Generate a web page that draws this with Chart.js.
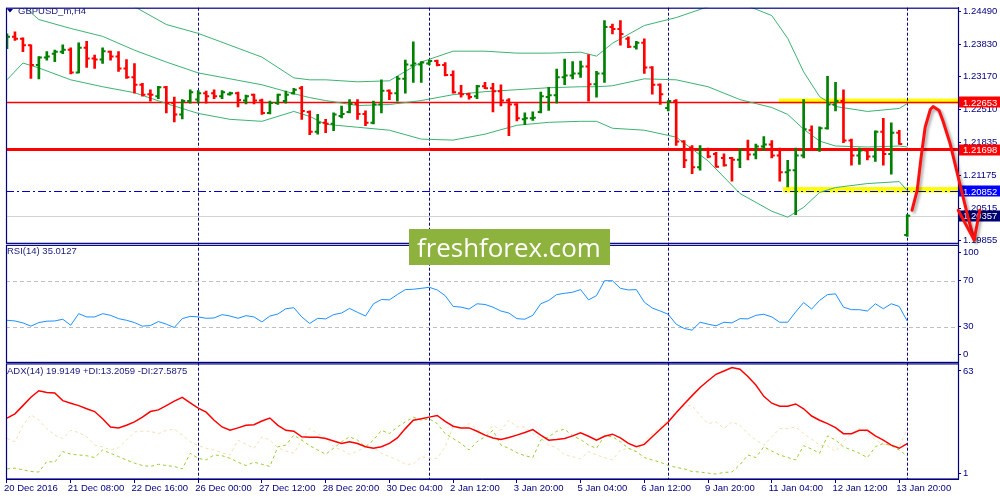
<!DOCTYPE html>
<html>
<head>
<meta charset="utf-8">
<script src="https://cdn.jsdelivr.net/npm/chart.js@4.4.1/dist/chart.umd.min.js"></script>
<style>
  html, body { margin: 0; padding: 0; background: #fff; overflow: hidden; }
  canvas { display: block; }
</style>
</head>
<body>
<canvas id="chart" width="1000" height="500" style="width:1000px;height:500px"></canvas>
<script>
// GBPUSD_m H4 bars, 20 Dec 2016 00:00 .. 16 Jan 2017 00:00 (bar index 0..113)
const barOpen = [
  1.2381,1.2398,1.2394,1.2381,1.2341,1.2356,1.2364,1.2368,1.2372,1.2326,
  1.2376,1.2354,1.2352,1.2368,1.2358,1.2334,1.2316,1.2301,1.2282,1.2278,
  1.2296,1.2264,1.2241,1.2268,1.2271,1.2284,1.2284,1.2278,1.2282,1.2284,
  1.2269,1.2281,1.2269,1.2244,1.2264,1.2268,1.2284,1.2294,1.2246,1.2206,
  1.2224,1.2222,1.2238,1.2246,1.2262,1.2242,1.2224,1.2261,1.2289,1.2284,
  1.2313,1.2340,1.2342,1.2344,1.2349,1.2341,1.2321,1.2284,1.2282,1.2278,
  1.2298,1.2294,1.2288,1.2269,1.2261,1.2231,1.2233,1.2246,1.2276,1.2280,
  1.2316,1.2320,1.2324,1.2338,1.2302,1.2324,1.2418,1.2414,1.2394,1.2378,
  1.2386,1.2336,1.2301,1.2254,1.2268,1.2186,1.2174,1.2134,1.2171,1.2161,
  1.2153,1.2153,1.2149,1.2171,1.2160,1.2176,1.2180,1.2158,1.2124,1.2128,
  1.2158,1.2209,1.2171,1.2213,1.2261,1.2268,1.2188,1.2158,1.2168,1.2156,
  1.2206,1.2161,1.2204,1.1997
];
const barHigh = [
  1.2404,1.2408,1.2396,1.2382,1.2358,1.2368,1.2371,1.2382,1.2376,1.2386,
  1.2389,1.2361,1.2376,1.2369,1.2368,1.2352,1.2344,1.2304,1.2291,1.2298,
  1.2298,1.2276,1.2271,1.2291,1.2289,1.2288,1.2291,1.2289,1.2286,1.2286,
  1.2280,1.2282,1.2272,1.2268,1.2282,1.2288,1.2294,1.2298,1.2248,1.2241,
  1.2231,1.2244,1.2258,1.2271,1.2271,1.2248,1.2268,1.2311,1.2291,1.2318,
  1.2351,1.2388,1.2348,1.2351,1.2351,1.2346,1.2329,1.2300,1.2284,1.2300,
  1.2306,1.2304,1.2301,1.2273,1.2263,1.2244,1.2246,1.2286,1.2296,1.2333,
  1.2353,1.2348,1.2349,1.2362,1.2328,1.2431,1.2424,1.2431,1.2398,1.2389,
  1.2394,1.2338,1.2303,1.2269,1.2271,1.2188,1.2178,1.2178,1.2173,1.2164,
  1.2161,1.2154,1.2171,1.2189,1.2181,1.2196,1.2188,1.2173,1.2148,1.2173,
  1.2271,1.2218,1.2216,1.2318,1.2306,1.2291,1.2191,1.2173,1.2171,1.2208,
  1.2233,1.2224,1.2209,1.2038
];
const barLow = [
  1.2374,1.2391,1.2368,1.2314,1.2313,1.2351,1.2348,1.2364,1.2323,1.2325,
  1.2336,1.2334,1.2344,1.2351,1.2328,1.2314,1.2284,1.2278,1.2268,1.2273,
  1.2244,1.2226,1.2232,1.2264,1.2264,1.2264,1.2273,1.2273,1.2280,1.2256,
  1.2262,1.2262,1.2241,1.2242,1.2261,1.2264,1.2282,1.2231,1.2200,1.2201,
  1.2204,1.2208,1.2234,1.2244,1.2231,1.2218,1.2222,1.2244,1.2271,1.2268,
  1.2284,1.2306,1.2306,1.2341,1.2339,1.2319,1.2284,1.2276,1.2272,1.2273,
  1.2293,1.2246,1.2258,1.2198,1.2228,1.2220,1.2229,1.2244,1.2249,1.2264,
  1.2301,1.2313,1.2316,1.2268,1.2276,1.2306,1.2404,1.2381,1.2376,1.2373,
  1.2324,1.2282,1.2261,1.2248,1.2178,1.2133,1.2121,1.2128,1.2153,1.2134,
  1.2136,1.2106,1.2133,1.2149,1.2151,1.2168,1.2153,1.2106,1.2094,1.2038,
  1.2153,1.2168,1.2166,1.2211,1.2248,1.2184,1.2138,1.2140,1.2149,1.2146,
  1.2138,1.2120,1.2180,1.1994
];
const barClose = [
  1.2398,1.2394,1.2381,1.2341,1.2356,1.2358,1.2368,1.2372,1.2326,1.2376,
  1.2354,1.2352,1.2369,1.2358,1.2334,1.2316,1.2301,1.2281,1.2281,1.2296,
  1.2264,1.2241,1.2268,1.2286,1.2284,1.2278,1.2278,1.2286,1.2284,1.2270,
  1.2278,1.2269,1.2244,1.2264,1.2281,1.2281,1.2291,1.2248,1.2206,1.2224,
  1.2222,1.2241,1.2242,1.2262,1.2242,1.2224,1.2261,1.2289,1.2284,1.2313,
  1.2342,1.2344,1.2346,1.2349,1.2341,1.2321,1.2286,1.2282,1.2276,1.2298,
  1.2294,1.2288,1.2269,1.2261,1.2233,1.2233,1.2234,1.2278,1.2280,1.2316,
  1.2320,1.2324,1.2338,1.2302,1.2324,1.2418,1.2414,1.2404,1.2378,1.2386,
  1.2336,1.2301,1.2282,1.2268,1.2186,1.2148,1.2134,1.2171,1.2156,1.2135,
  1.2138,1.2149,1.2169,1.2160,1.2176,1.2180,1.2158,1.2124,1.2128,1.2158,
  1.2211,1.2171,1.2213,1.2261,1.2268,1.2188,1.2158,1.2168,1.2156,1.2206,
  1.2161,1.2204,1.2181,1.2036
];

// Bollinger bands, read at these bar indices
const bbIdx = [0,2,4,8,12,16,20,24,28,32,36,38,40,44,48,52,56,60,64,68,72,74,76,80,84,88,92,96,98,100,102,104,108,112,113];
const bbUpper = [1.2641,1.2621,1.2601,1.2561,1.2501,1.2459,1.2423,1.2405,1.2381,1.2357,1.2315,1.2311,1.2311,1.2307,1.2309,1.2347,1.2369,1.2369,1.2365,1.2365,1.2367,1.2359,1.2385,1.2421,1.2437,1.2459,1.2467,1.2441,1.2395,1.2327,1.2277,1.2257,1.2247,1.2253,1.2263];
const bbMiddle = [1.2485,1.2461,1.2433,1.2415,1.2399,1.2371,1.2347,1.2325,1.2313,1.2301,1.2283,1.2275,1.2269,1.2259,1.2261,1.2269,1.2281,1.2287,1.2291,1.2295,1.2297,1.2297,1.2299,1.2313,1.2311,1.2297,1.2271,1.2255,1.2241,1.2211,1.2187,1.2177,1.2175,1.2177,1.2175];
const bbLower = [1.2311,1.2345,1.2335,1.2311,1.2297,1.2285,1.2263,1.2243,1.2231,1.2227,1.2247,1.2237,1.2221,1.2215,1.2209,1.2191,1.2189,1.2201,1.2219,1.2225,1.2227,1.2227,1.2213,1.2209,1.2195,1.2147,1.2081,1.2045,1.2033,1.2053,1.2083,1.2093,1.2101,1.2105,1.2087];

const rsi14 = [
  35.7,35.1,33.4,30.6,33.7,34.9,35.1,36.6,31.4,41.4,
  38.6,38.6,41.4,40.0,37.1,35.7,33.7,30.6,31.1,34.6,
  32.3,29.4,37.1,39.1,38.6,37.4,37.7,40.6,39.4,37.4,
  39.7,38.6,34.3,39.4,41.1,45.7,46.6,38.6,32.9,37.4,
  36.9,40.6,42.0,46.0,42.6,39.4,50.0,53.7,53.4,58.0,
  62.3,62.6,63.4,64.3,62.0,57.1,47.7,47.1,45.4,50.0,
  49.4,47.1,43.7,42.0,37.1,36.6,40.0,50.0,52.9,58.0,
  59.1,60.0,62.3,53.4,57.1,70.0,70.0,63.4,62.0,62.3,
  51.4,46.3,43.7,40.9,32.3,28.6,27.1,34.0,32.3,30.9,
  34.0,33.4,37.1,36.9,40.0,40.9,38.6,34.0,34.0,42.9,
  51.1,45.4,52.9,58.0,58.6,47.1,44.9,44.9,43.7,50.0,
  45.7,50.0,47.7,35.0
];
const adxMain = [
  33.7,36.0,40.4,44.9,48.4,47.5,47.2,43.1,41.7,40.4,
  38.7,37.2,33.3,28.9,28.4,29.8,31.6,34.2,37.2,38.1,
  40.4,42.8,44.9,41.9,39.0,36.9,32.5,28.9,27.1,28.4,
  29.8,30.1,32.1,33.7,29.8,27.1,26.6,23.6,23.4,23.4,
  22.7,21.3,20.0,20.9,20.0,18.2,17.4,18.2,20.0,23.0,
  28.0,32.5,33.3,34.2,35.1,31.9,29.3,28.4,28.4,26.6,
  24.5,23.0,22.2,23.2,24.5,25.9,27.5,24.5,21.8,22.2,
  22.7,24.1,25.7,23.9,21.8,23.9,25.0,23.0,20.0,18.2,
  19.5,23.6,27.7,31.6,36.5,41.3,45.8,50.2,53.8,57.3,
  59.1,60.9,60.0,56.1,51.5,45.4,41.7,40.1,40.1,41.3,
  38.7,34.8,32.5,30.7,28.5,25.3,25.3,27.1,27.1,24.1,
  21.8,19.1,17.4,19.9
];
const adxPlusDI = [
  6.3,6.7,5.8,4.9,4.6,10.3,9.9,15.6,14.2,13.8,
  13.4,12.4,16.5,14.7,12.9,11.1,9.4,8.1,7.6,8.8,
  8.1,7.6,6.3,14.7,12.0,11.1,13.8,13.4,12.0,9.9,
  8.1,9.9,8.8,7.6,18.2,19.1,24.5,21.8,18.8,16.5,
  14.2,17.4,20.9,23.6,21.8,18.2,21.8,27.1,25.3,28.9,
  31.6,34.2,32.5,33.3,30.7,25.3,22.7,20.0,16.5,20.9,
  23.6,27.1,19.1,17.4,15.0,13.4,12.4,21.8,23.6,26.6,
  27.7,24.1,22.2,19.1,17.4,24.1,23.6,20.9,17.4,15.6,
  12.4,11.1,9.9,8.1,7.1,6.3,4.9,4.6,4.0,3.5,
  4.4,4.6,8.5,13.8,12.4,18.2,15.9,13.8,12.4,11.1,
  18.8,17.0,14.7,24.1,21.8,18.2,16.5,14.7,12.4,18.2,
  20.0,18.8,16.5,13.2
];
const adxMinusDI = [
  22.7,20.9,29.8,35.5,32.5,28.0,24.5,22.7,27.1,25.9,
  23.6,19.1,18.2,16.5,17.7,21.8,26.2,26.6,26.6,25.3,
  27.1,27.7,24.5,20.9,18.8,17.4,16.5,15.0,13.8,21.8,
  19.5,17.4,23.6,21.8,17.7,15.9,14.7,21.8,28.0,25.3,
  23.0,18.2,16.5,14.2,15.9,18.2,17.7,14.7,12.9,11.1,
  8.8,8.8,12.9,12.0,12.0,18.2,28.9,28.0,30.7,28.0,
  24.5,29.8,27.1,32.5,28.9,28.9,25.3,22.7,19.1,17.7,
  13.8,12.9,11.7,15.6,13.8,12.4,11.1,16.5,17.4,15.6,
  21.3,25.3,28.9,32.5,36.9,40.4,40.4,35.1,30.7,31.6,
  28.0,31.6,29.8,25.3,21.8,19.1,23.6,28.0,28.0,28.9,
  25.3,22.3,19.1,18.8,15.6,21.3,25.3,28.0,25.9,21.8,
  19.5,18.8,18.2,27.6
];

// axis labels
const xTickIdx = [0,8,16,24,32,40,48,56,64,72,80,88,96,104,112];
const xTickLabels = ["20 Dec 2016","21 Dec 08:00","22 Dec 16:00","26 Dec 00:00","27 Dec 12:00","28 Dec 20:00","30 Dec 04:00","2 Jan 12:00","3 Jan 20:00","5 Jan 04:00","6 Jan 12:00","9 Jan 20:00","11 Jan 04:00","12 Jan 12:00","13 Jan 20:00"];
const priceTicks = [1.24490,1.23830,1.23170,1.22510,1.21835,1.21175,1.20515,1.19855];
const weekStarts = [24, 53, 83, 113];

// drawn levels
const levelUpper = 1.22653;
const levelMid = 1.21698;
const levelLower = 1.20852;
const bidPrice = 1.20357;
const upperZone = [1.2263, 1.2273];
const lowerZone = [1.2083, 1.2094];
const zoneStart = [96.9, 97.4];
// hand drawn forecast arrow (bar index, price)
const arrowIdx = [113.6,114.25,114.75,115.25,115.9,116.25,117,117.5,118.4,119.6,120.6,121.4];
const arrowPrice = [1.2047,1.2087,1.2155,1.2215,1.2251,1.2257,1.2249,1.2227,1.2181,1.2101,1.2035,1.1987];

const NAVY = '#000080';
const UP = '#008000';
const DOWN = '#ff0000';
const FONT = "'Liberation Sans', Arial, sans-serif";
const barColors = barClose.map((c, i) => (c >= barOpen[i] ? UP : DOWN));

function lineSet(label, axis, xs, ys, color, width, dash) {
  return {
    type: 'line', label, yAxisID: axis, xAxisID: 'x',
    data: xs.map((x, k) => ({ x, y: ys[k] })),
    borderColor: color, borderWidth: width, borderDash: dash || [],
    pointRadius: 0, tension: 0, fill: false, order: 2
  };
}
const idx = barClose.map((_, i) => i);

const overlay = {
  id: 'overlay',
  beforeDatasetsDraw(chart) {
    const { ctx, chartArea: a, scales } = chart;
    const x = scales.x, yP = scales.yP, yR = scales.yR;
    const py = v => Math.round(yP.getPixelForValue(v)) + 0.5;
    ctx.save();
    // yellow zones
    ctx.fillStyle = '#ffff00';
    [upperZone, lowerZone].forEach((z, k) => {
      const x0 = x.getPixelForValue(zoneStart[k]);
      const t = yP.getPixelForValue(z[1]), b = yP.getPixelForValue(z[0]);
      ctx.fillRect(x0, t, a.right - x0, b - t);
    });
    // week separators
    ctx.strokeStyle = NAVY; ctx.lineWidth = 1; ctx.setLineDash([3, 2]);
    weekStarts.forEach(i => {
      const px = Math.round(x.getPixelForValue(i)) + 0.5;
      ctx.beginPath(); ctx.moveTo(px, a.top); ctx.lineTo(px, a.bottom); ctx.stroke();
    });
    // rsi levels
    ctx.strokeStyle = '#c0c0c0'; ctx.setLineDash([4, 3]);
    [70, 30].forEach(v => {
      const y = Math.round(yR.getPixelForValue(v)) + 0.5;
      ctx.beginPath(); ctx.moveTo(a.left, y); ctx.lineTo(a.right, y); ctx.stroke();
    });
    // horizontal price levels
    ctx.setLineDash([]);
    ctx.strokeStyle = '#d3d3d3'; ctx.lineWidth = 1;
    ctx.beginPath(); ctx.moveTo(a.left, py(bidPrice)); ctx.lineTo(a.right, py(bidPrice)); ctx.stroke();
    ctx.strokeStyle = DOWN; ctx.lineWidth = 1.5;
    ctx.beginPath(); ctx.moveTo(a.left, py(levelUpper)); ctx.lineTo(a.right, py(levelUpper)); ctx.stroke();
    ctx.lineWidth = 3;
    ctx.beginPath(); ctx.moveTo(a.left, yP.getPixelForValue(levelMid)); ctx.lineTo(a.right, yP.getPixelForValue(levelMid)); ctx.stroke();
    ctx.strokeStyle = '#0000cd'; ctx.lineWidth = 1; ctx.setLineDash([8, 3, 2, 3]);
    ctx.beginPath(); ctx.moveTo(a.left, py(levelLower)); ctx.lineTo(a.right, py(levelLower)); ctx.stroke();
    ctx.restore();
  },
  afterDraw(chart) {
    const { ctx, chartArea: a, scales } = chart;
    const x = scales.x, yP = scales.yP, yR = scales.yR, yA = scales.yA;
    ctx.save();
    // pane borders
    ctx.strokeStyle = NAVY; ctx.lineWidth = 1.2;
    ctx.strokeRect(a.left + 0.5, a.top + 0.5, a.right - a.left, yP.bottom - 1 - a.top);
    ctx.strokeRect(a.left + 0.5, yR.top + 1.5, a.right - a.left, yR.bottom - yR.top - 1.5);
    ctx.strokeRect(a.left + 0.5, yA.top + 1.5, a.right - a.left, yA.bottom - yA.top - 1.5);

    // pane captions
    ctx.fillStyle = NAVY;
    ctx.beginPath(); ctx.moveTo(7, 9); ctx.lineTo(13, 9); ctx.lineTo(10, 12.5); ctx.closePath(); ctx.fill();
    ctx.fillStyle = '#1a1a7a';
    ctx.font = '9.5px ' + FONT;
    ctx.textBaseline = 'middle'; ctx.textAlign = 'left';
    ctx.fillText('GBPUSD_m,H4', 18, 11);
    ctx.fillText('RSI(14) 35.0127', 7, 251);
    ctx.fillText('ADX(14) 19.9149 +DI:13.2059 -DI:27.5875', 7, 371);

    // price boxes on the right scale
    [[levelUpper, '#ff0000'], [levelMid, '#ff0000'], [levelLower, '#0000ff'], [bidPrice, '#000070']].forEach(([v, c]) => {
      const y = yP.getPixelForValue(v);
      ctx.fillStyle = c;
      ctx.fillRect(a.right + 1, Math.round(y) - 5.5, 1000 - a.right - 1, 11);
      ctx.fillStyle = '#ffffff';
      ctx.fillText(v.toFixed(5), a.right + 5, y + 0.5);
    });

    // watermark
    ctx.fillStyle = '#8db33e';
    ctx.fillRect(409, 229, 201, 36);
    const brand = 'freshforex.com';
    ctx.font = "30px 'Open Sans', sans-serif";
    const fs = 30 * 184 / ctx.measureText(brand).width;
    ctx.font = fs.toFixed(1) + "px 'Open Sans', sans-serif";
    ctx.fillStyle = '#ffffff'; ctx.textBaseline = 'alphabetic';
    ctx.fillText(brand, 417, 257);

    // forecast arrow
    const pts = arrowIdx.map((v, k) => [x.getPixelForValue(v), yP.getPixelForValue(arrowPrice[k])]);
    ctx.shadowColor = 'rgba(0,0,0,0.35)'; ctx.shadowBlur = 3; ctx.shadowOffsetX = 2; ctx.shadowOffsetY = 2;
    ctx.strokeStyle = '#ff1010'; ctx.lineWidth = 3; ctx.lineJoin = 'round'; ctx.lineCap = 'round';
    ctx.beginPath();
    pts.forEach((p, k) => (k ? ctx.lineTo(p[0], p[1]) : ctx.moveTo(p[0], p[1])));
    ctx.stroke();
    const tip = pts[pts.length - 1];
    ctx.beginPath();
    ctx.moveTo(x.getPixelForValue(119.4), yP.getPixelForValue(1.2047));
    ctx.lineTo(tip[0], tip[1]);
    ctx.lineTo(x.getPixelForValue(122.1), yP.getPixelForValue(1.2047));
    ctx.stroke();
    ctx.restore();
  }
};

const axisFont = { family: FONT, size: 9.5 };
const rsiTickPos = [94.3, 70, 30, 5.7];
const rsiTickText = ['100', '70', '30', '0'];
const adxTickPos = [59.1, 4.0];
const adxTickText = ['63', '1'];

function sideAxis(weight, min, max, pos, text) {
  return {
    type: 'linear', axis: 'y', position: 'right', stack: 'panes', stackWeight: weight,
    min, max,
    afterBuildTicks: s => { s.ticks = pos.map(v => ({ value: v })); },
    afterFit: s => { s.width = 42; },
    ticks: { color: NAVY, font: axisFont, padding: 2, callback: (v, i) => text[i] },
    grid: { drawOnChartArea: false, tickLength: 3, color: NAVY },
    border: { color: NAVY }
  };
}

new Chart(document.getElementById('chart'), {
  type: 'bar',
  data: {
    datasets: [
      {
        type: 'bar', label: 'range', yAxisID: 'yP', xAxisID: 'x', order: 0,
        data: idx.map(i => ({ x: i, y: [barLow[i], barHigh[i]] })),
        backgroundColor: barColors, borderWidth: 0, barThickness: 2
      },
      {
        type: 'scatter', label: 'open', yAxisID: 'yP', xAxisID: 'x', order: 0,
        data: idx.map(i => ({ x: i, y: barOpen[i] })),
        pointStyle: 'dash', pointRotation: 180, pointRadius: 3,
        pointBorderColor: barColors, pointBorderWidth: 2, showLine: false
      },
      {
        type: 'scatter', label: 'close', yAxisID: 'yP', xAxisID: 'x', order: 0,
        data: idx.map(i => ({ x: i, y: barClose[i] })),
        pointStyle: 'dash', pointRotation: 0, pointRadius: 3,
        pointBorderColor: barColors, pointBorderWidth: 2, showLine: false
      },
      lineSet('bb upper', 'yP', bbIdx, bbUpper, '#3cb371', 1),
      lineSet('bb middle', 'yP', bbIdx, bbMiddle, '#3cb371', 1),
      lineSet('bb lower', 'yP', bbIdx, bbLower, '#3cb371', 1),
      lineSet('RSI(14)', 'yR', idx, rsi14, '#1e90ff', 1),
      lineSet('ADX', 'yA', idx, adxMain, '#ff0000', 1.5),
      lineSet('+DI', 'yA', idx, adxPlusDI, '#9acd32', 1, [3, 3]),
      lineSet('-DI', 'yA', idx, adxMinusDI, '#f5deb3', 1, [3, 3])
    ]
  },
  options: {
    responsive: false,
    animation: false,
    devicePixelRatio: 1,
    layout: { padding: { left: 2, top: 2, right: 0, bottom: 0 } },
    plugins: { legend: { display: false }, tooltip: { enabled: false } },
    scales: {
      x: {
        type: 'linear', position: 'bottom', offset: false,
        min: -0.125, max: -0.125 + 956 / 8,
        afterBuildTicks: s => { s.ticks = xTickIdx.map(v => ({ value: v })); },
        afterFit: s => { s.height = 21; },
        ticks: { autoSkip: false, maxRotation: 0, align: 'start', labelOffset: -3, color: NAVY, font: axisFont, padding: 0,
                 callback: (v, i) => xTickLabels[i] },
        grid: { drawOnChartArea: false, offset: false, tickLength: 4, color: NAVY },
        border: { color: NAVY }
      },
      yP: sideAxis(239, 1.1979, 1.2457, priceTicks, priceTicks.map(v => v.toFixed(5))),
      yR: sideAxis(120, -0.86, 102, rsiTickPos, rsiTickText),
      yA: sideAxis(118, 0.84, 63.7, adxTickPos, adxTickText)
    }
  },
  plugins: [overlay]
});
</script>
</body>
</html>
